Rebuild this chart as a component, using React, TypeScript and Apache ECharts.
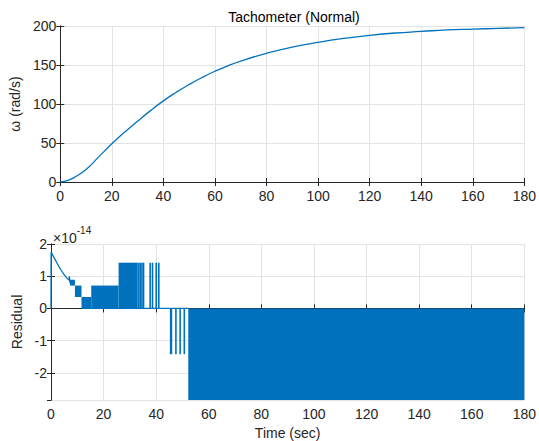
import React, { useEffect, useRef } from "react";
import * as echarts from "echarts";

// Top plot: tachometer speed (rad/s) vs time (sec)
const speedTime = [0, 3, 6, 10, 15, 20, 25, 30, 35, 40, 45, 50, 55, 60, 65, 70, 80, 90, 100, 110, 120, 130, 140, 150, 160, 170, 180];
const speedValue = [0, 2, 7, 16, 32.5, 49, 64, 78, 91.5, 104, 115, 125, 134, 142, 149, 155, 165, 173, 179, 184, 188, 191, 193, 195, 196, 197, 198];

// Bottom plot: residual (units of 1e-14)
const decayTime = [0, 0.05, 1, 2, 3, 4, 5, 6, 6.8, 7.0, 7.2, 8];
const decayValue = [0, 1.75, 1.6, 1.45, 1.3, 1.17, 1.05, 0.95, 0.88, 1.0, 0.8, 0.86];
const zeroSegment = [[11.6, 0], [52.2, 0]];
// dense oscillation blocks: [tStart, tEnd, low, high]
const residualBands = [
  [7.2, 9.1, 0.71, 0.89],
  [9.1, 11.6, 0.355, 0.71],
  [11.6, 15.3, 0, 0.355],
  [15.3, 25.7, 0, 0.71],
  [25.7, 33.0, 0, 1.42],
  [45.2, 46.1, -1.42, 0],
  [52.2, 180, -2.842, 0],
];
// isolated spikes: [t, low, high]
const residualSpikes = [
  [33.4, 0, 1.42], [34.0, 0, 1.42], [34.6, 0, 1.42], [35.2, 0, 1.42],
  [37.7, 0, 1.42], [38.6, 0, 1.42], [40.0, 0, 1.42], [41.0, 0, 1.42],
  [47.5, -1.42, 0], [49.1, -1.42, 0], [50.7, -1.42, 0],
];

const xTicks = { min: 0, max: 180, interval: 20 };
const BLUE = "#0072BD";
const AX = "#262626";
const FONT = "Liberation Sans";
const FS = 14;

export default function App() {
  const ref = useRef<HTMLDivElement>(null);
  useEffect(() => {
    const chart = echarts.init(ref.current!, null, { renderer: "svg" });
    const axisLine = { show: true, lineStyle: { color: AX, width: 1 } };
    const tick = { show: true, inside: true, length: 4, lineStyle: { color: AX } };
    const label = { color: AX, fontSize: FS, fontFamily: FONT };
    const split = { show: true, lineStyle: { color: "#e3e3e3", width: 1 } };
    const nameStyle = { color: AX, fontSize: FS, fontFamily: FONT };
    const mkX = (grid: number, pos: "bottom" | "top", name?: string) => ({
      type: "value", gridIndex: grid, position: pos, ...xTicks,
      axisLine, axisTick: tick,
      axisLabel: pos === "bottom" ? { ...label, margin: 7 } : { show: false },
      splitLine: pos === "bottom" ? split : { show: false },
      name, nameLocation: "middle", nameGap: 26, nameTextStyle: nameStyle,
    });
    const renderBand = (params: any, api: any) => {
      const t0 = api.value(0), t1 = api.value(1), lo = api.value(2), hi = api.value(3);
      const p0 = api.coord([t0, hi]);
      const p1 = api.coord([t1, lo]);
      return { type: "rect", shape: { x: p0[0], y: p0[1], width: p1[0] - p0[0], height: p1[1] - p0[1] }, style: { fill: BLUE } };
    };
    const renderSpike = (params: any, api: any) => {
      const t = api.value(0), lo = api.value(1), hi = api.value(2);
      const p0 = api.coord([t, hi]);
      const p1 = api.coord([t, lo]);
      return { type: "rect", shape: { x: p0[0] - 0.8, y: p0[1], width: 1.6, height: p1[1] - p0[1] }, style: { fill: BLUE } };
    };
    chart.setOption({
      animation: false,
      backgroundColor: "#fff",
      title: {
        text: "Tachometer (Normal)", left: 289, top: 5, textAlign: "center",
        textStyle: { fontWeight: "normal", fontSize: FS, color: "#000", fontFamily: FONT },
      },
      grid: [
        { left: 51, top: 26, width: 476, height: 156 },
        { left: 51, top: 244, width: 476, height: 156 },
      ],
      xAxis: [mkX(0, "bottom"), mkX(0, "top"), mkX(1, "bottom", "Time (sec)"), mkX(1, "top")],
      yAxis: [
        {
          type: "value", gridIndex: 0, position: "left", min: 0, max: 200, interval: 50,
          axisLine, axisTick: tick, axisLabel: { ...label, margin: 4 }, splitLine: split,
          name: "ω (rad/s)", nameLocation: "middle", nameGap: 31, nameTextStyle: nameStyle,
        },
        {
          type: "value", gridIndex: 0, position: "right", min: 0, max: 200, interval: 50,
          axisLine, axisTick: tick, axisLabel: { show: false }, splitLine: { show: false },
        },
        {
          type: "value", gridIndex: 1, position: "left", min: -2.842, max: 2, splitNumber: 5,
          axisLine, axisTick: tick, axisLabel: { ...label, margin: 4, showMinLabel: false }, splitLine: split,
          name: "Residual", nameLocation: "middle", nameGap: 20, nameTextStyle: nameStyle,
        },
        {
          type: "value", gridIndex: 1, position: "right", min: -2.842, max: 2, splitNumber: 5,
          axisLine, axisTick: tick, axisLabel: { show: false }, splitLine: { show: false },
        },
      ],
      graphic: [
        {
          type: "text", x: 53, y: 225,
          style: {
            text: "{a|×10}{b|-14}",
            rich: {
              a: { fontSize: FS, fontFamily: FONT, fill: AX, padding: [6, 0, 0, 0] },
              b: { fontSize: 10, fontFamily: FONT, fill: AX, verticalAlign: "top" },
            },
          },
        },
      ],
      series: [
        {
          type: "line", xAxisIndex: 0, yAxisIndex: 0, smooth: true, symbol: "none",
          lineStyle: { color: BLUE, width: 1.3 },
          data: speedTime.map((t, i) => [t, speedValue[i]]),
        },
        {
          type: "custom", xAxisIndex: 2, yAxisIndex: 2, renderItem: renderBand,
          data: residualBands, clip: true,
        },
        {
          type: "custom", xAxisIndex: 2, yAxisIndex: 2, renderItem: renderSpike,
          data: residualSpikes, clip: true,
        },
        {
          type: "line", xAxisIndex: 2, yAxisIndex: 2, symbol: "none",
          lineStyle: { color: BLUE, width: 1.3 },
          data: decayTime.map((t, i) => [t, decayValue[i]]),
        },
        {
          type: "line", xAxisIndex: 2, yAxisIndex: 2, symbol: "none",
          lineStyle: { color: BLUE, width: 1.3 },
          data: zeroSegment,
        },
      ],
    });
    return () => chart.dispose();
  }, []);
  return <div ref={ref} style={{ width: 539, height: 441, position: "absolute", left: 0, top: 0 }} />;
}
